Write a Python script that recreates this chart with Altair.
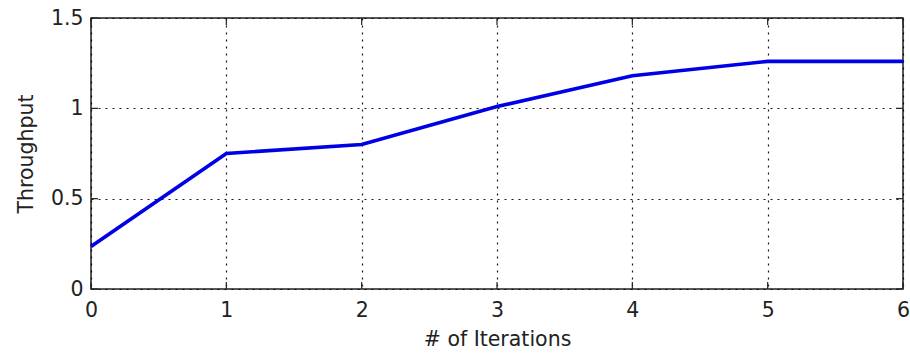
import altair as alt
import pandas as pd

iterations = [0, 1, 2, 3, 4, 5, 6]
throughput = [0.235, 0.75, 0.80, 1.01, 1.18, 1.26, 1.26]
x_ticks = [0, 1, 2, 3, 4, 5, 6]
y_ticks = [0, 0.5, 1, 1.5]

W, H = 812, 271
FONT = "DejaVu Sans"
TL = 7

df = pd.DataFrame({"it": iterations, "tp": throughput})
dfx = pd.DataFrame({"it": x_ticks})
dfy = pd.DataFrame({"tp": y_ticks})

xs = alt.Scale(domain=[0, 6], nice=False, zero=False)
ys = alt.Scale(domain=[0, 1.5], nice=False)

x_axis = alt.Axis(values=x_ticks, title="# of Iterations", grid=True, gridColor="#000",
                  gridDash=[2, 5], gridOpacity=0.9, gridWidth=1.2, ticks=False, domain=False,
                  format="d", labelFlush=False,
                  labelFont=FONT, labelFontSize=20.5, labelColor="#222", labelPadding=11,
                  titleFont=FONT, titleFontSize=20.5, titleFontWeight="normal", titleColor="#222",
                  titlePadding=9)
y_axis = alt.Axis(values=y_ticks, title="Throughput", grid=True, gridColor="#000",
                  gridDash=[2, 5], gridOpacity=0.9, gridWidth=1.2, ticks=False, domain=False,
                  format=".1~f", labelFlush=False,
                  labelFont=FONT, labelFontSize=20.5, labelColor="#222", labelPadding=8,
                  titleFont=FONT, titleFontSize=20.5, titleFontWeight="normal", titleColor="#222",
                  titlePadding=14)

line = alt.Chart(df).mark_line(color="#0000E6", strokeWidth=3.6).encode(
    x=alt.X("it:Q", scale=xs, axis=x_axis),
    y=alt.Y("tp:Q", scale=ys, axis=y_axis),
)

tick_style = dict(color="#222", strokeWidth=1.2)
xt_bottom = alt.Chart(dfx).mark_rule(**tick_style).encode(
    x=alt.X("it:Q", scale=xs, axis=x_axis), y=alt.value(H), y2=alt.value(H - TL))
xt_top = alt.Chart(dfx).mark_rule(**tick_style).encode(
    x=alt.X("it:Q", scale=xs, axis=x_axis), y=alt.value(0), y2=alt.value(TL))
yt_left = alt.Chart(dfy).mark_rule(**tick_style).encode(
    y=alt.Y("tp:Q", scale=ys, axis=y_axis), x=alt.value(0), x2=alt.value(TL))
yt_right = alt.Chart(dfy).mark_rule(**tick_style).encode(
    y=alt.Y("tp:Q", scale=ys, axis=y_axis), x=alt.value(W), x2=alt.value(W - TL))

chart = alt.layer(line, xt_bottom, xt_top, yt_left, yt_right).properties(
    width=W, height=H,
    padding={"left": 91, "top": 18, "right": 7, "bottom": 65},
    autosize="none",
    background="white",
).configure_view(stroke="#222", strokeWidth=1.5)

chart.save("out.html", embed_options={"renderer": "svg", "actions": False})
